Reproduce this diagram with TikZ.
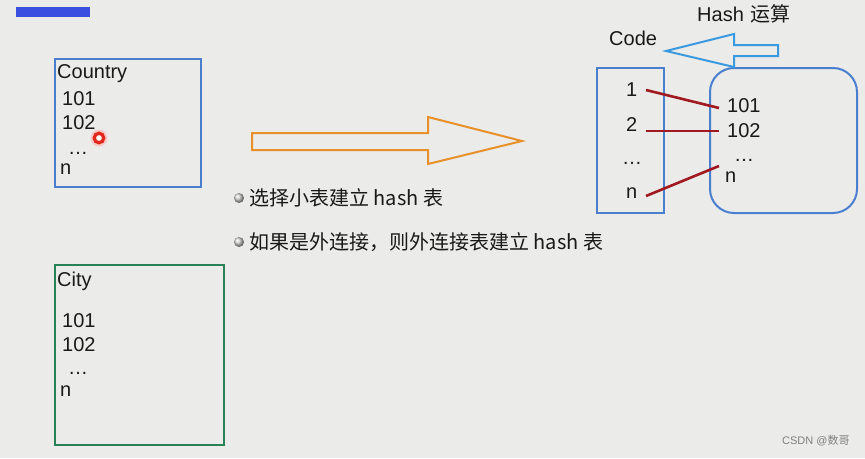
\documentclass[tikz,border=0pt]{standalone}
\usepackage{fontspec}
\setmainfont{Liberation Sans}
\newfontfamily\cjk{Noto Sans CJK SC}
\definecolor{bgc}{RGB}{235,235,233}
\definecolor{barblue}{RGB}{58,78,224}
\definecolor{boxblue}{RGB}{74,127,208}
\definecolor{boxgreen}{RGB}{40,130,85}
\definecolor{arrorange}{RGB}{232,144,42}
\definecolor{arrblue}{RGB}{58,154,224}
\definecolor{linkred}{RGB}{160,24,32}
\definecolor{dotred}{RGB}{225,40,30}
\tikzset{
  txt/.style={anchor=west,inner sep=0pt,font=\fontsize{20}{22}\selectfont,text=black!90},
  cjktxt/.style={anchor=west,inner sep=0pt,font=\fontsize{20}{22}\selectfont\cjk,text=black!90},
  tbox/.style={line width=2pt},
  link/.style={draw=linkred,line width=2.6pt},
  bullet/.style={circle,inner sep=0pt,minimum size=10pt,shading=ball,ball color=gray!35}
}
\begin{document}
\begin{tikzpicture}[x=1pt,y=-1pt]
\useasboundingbox (0,0) rectangle (865,458);
\fill[bgc] (0,0) rectangle (865,458);
% blue bar
\fill[barblue] (16,7) rectangle (90,17);
% Country box
\draw[tbox,draw=boxblue] (55,59) rectangle (201,187);
\node[txt] (country) at (57,74) {Country};
\node[txt] (c101) at (62,99) {101};
\node[txt] (c102) at (62,123) {102};
\node[txt] (cdots) at (68,153) {\dots};
\node[txt] (cn) at (60,169) {n};
% red pointer dot
\fill[dotred!25] (99,138) circle (8.5);
\draw[dotred,line width=3.2pt] (99,138) circle (4.8);
\fill[white] (99,138) circle (2.4);
% orange arrow
\draw[arrorange,line width=2pt,line join=miter] (252,133) -- (428,133) -- (428,117) -- (522,141) -- (428,164) -- (428,150) -- (252,150) -- cycle;
% bullets
\node[bullet] (b1) at (239,198) {};
\node[cjktxt] (t1) at (249,198) {选择小表建立 hash 表};
\node[bullet] (b2) at (239,242) {};
\node[cjktxt] (t2) at (249,242) {如果是外连接，则外连接表建立 hash 表};
% City box
\draw[tbox,draw=boxgreen] (55,265) rectangle (224,445);
\node[txt] (city) at (57,281) {City};
\node[txt] (y101) at (62,321) {101};
\node[txt] (y102) at (62,345) {102};
\node[txt] (ydots) at (68,373) {\dots};
\node[txt] (yn) at (60,391) {n};
% code box
\draw[tbox,draw=boxblue] (597,68) rectangle (664,213);
\node[txt] (k1) at (626,90) {1};
\node[txt] (k2) at (626,125) {2};
\node[txt] (kdots) at (622,163) {\dots};
\node[txt] (kn) at (626,193) {n};
% hash box
\draw[tbox,draw=boxblue,rounded corners=24pt] (710,68) rectangle (857,213);
\node[txt] (h101) at (727,106) {101};
\node[txt] (h102) at (727,131) {102};
\node[txt] (hdots) at (734,160) {\dots};
\node[txt] (hn) at (725,177) {n};
% links
\coordinate (a1) at (646,90);
\coordinate (a2) at (646,131);
\coordinate (an) at (646,196);
\coordinate (e1) at (719,108);
\coordinate (e2) at (719,131);
\coordinate (en) at (719,166);
\draw[link] (a1) -- (e1);
\draw[link] (a2) -- (e2);
\draw[link] (an) -- (en);
% blue arrow
\draw[arrblue,line width=2pt,line join=miter] (778,45) -- (734,45) -- (734,34) -- (666,51) -- (734,67) -- (734,56) -- (778,56) -- cycle;
\node[txt] (code) at (609,38) {Code};
\node[txt] (hash) at (697,14) {Hash\hspace{1.5pt} {\cjk 运算}};
% watermark
\node[anchor=west,inner sep=0pt,font=\fontsize{11}{12}\selectfont,text=gray] (wm) at (782,441) {CSDN @{\cjk 数哥}};
\end{tikzpicture}
\end{document}
